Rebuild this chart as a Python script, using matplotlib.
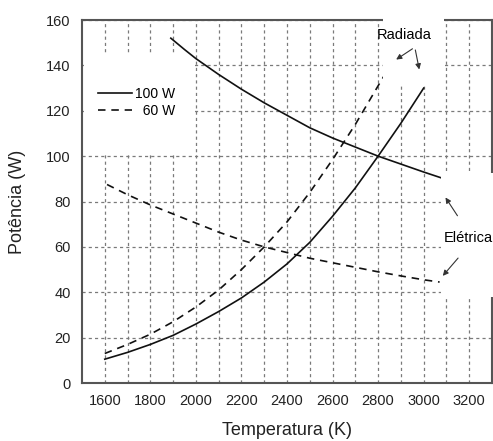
import matplotlib
matplotlib.use("Agg")
import matplotlib.pyplot as plt
from matplotlib.patches import Rectangle

plt.rcParams['font.family'] = ['Liberation Sans', 'DejaVu Sans']

# values
temp_rad_100 = [1600, 1700, 1800, 1900, 2000, 2100, 2200, 2300, 2400, 2500, 2600, 2700, 2800, 2900, 3000]
rad_100 = [10.5, 13.5, 17, 21, 26, 31.5, 37.5, 44.5, 52.5, 62, 73.5, 86, 100, 114.5, 130]

temp_ele_100 = [1890, 1950, 2000, 2100, 2200, 2300, 2400, 2500, 2600, 2700, 2800, 2900, 3000, 3075]
ele_100 = [152, 147, 143, 136, 129.5, 123.5, 118, 112.5, 108, 104, 100, 96.5, 93, 90.5]

temp_rad_60 = [1600, 1700, 1800, 1900, 2000, 2100, 2200, 2300, 2400, 2500, 2600, 2700, 2800, 2830]
rad_60 = [13, 17, 21.5, 27, 33.5, 41, 50, 60, 71, 84, 98.5, 114, 131, 136]

temp_ele_60 = [1610, 1700, 1800, 1900, 2000, 2100, 2200, 2300, 2400, 2500, 2600, 2700, 2800, 2900, 3000, 3070]
ele_60 = [87.5, 83, 78.5, 74.5, 70.5, 66.5, 63, 60, 57.5, 55, 53, 51, 49, 47.2, 45.5, 44.5]

x_ticks = [1600, 1800, 2000, 2200, 2400, 2600, 2800, 3000, 3200]
y_ticks = [0, 20, 40, 60, 80, 100, 120, 140, 160]

fig = plt.figure(figsize=(4.93, 4.41), dpi=100)
ax = fig.add_axes([0.1663, 0.1315, 0.8317, 0.8231])

line_col = '#111111'
ax.plot(temp_rad_100, rad_100, color=line_col, lw=1.2, label='100 W')
ax.plot(temp_ele_100, ele_100, color=line_col, lw=1.2)
ax.plot(temp_rad_60, rad_60, color=line_col, lw=1.2, dashes=(4.5, 3.5), label='\u200760 W')
ax.plot(temp_ele_60, ele_60, color=line_col, lw=1.2, dashes=(4.5, 3.5))

ax.set_xlim(1500, 3300)
ax.set_ylim(0, 160)
ax.set_xticks(x_ticks)
ax.set_xticks(range(1700, 3300, 200), minor=True)
ax.set_yticks(y_ticks)
ax.tick_params(which='both', length=0, labelsize=10.5, colors='#222222', pad=8)
ax.set_axisbelow(True)
ax.grid(True, which='both', color='#7a7a7a', lw=0.9, dashes=(2.5, 2.5))
for s in ax.spines.values():
    s.set_color('#555555')
    s.set_linewidth(1.5)

ax.set_xlabel('Temperatura (K)', fontsize=13, color='#222222')
ax.set_ylabel('Potência (W)', fontsize=13, color='#222222')
ax.xaxis.set_label_coords(0.5, -0.108)
ax.yaxis.set_label_coords(-0.137, 0.5)

# white boxes behind legend and annotations
ax.add_patch(Rectangle((0.004, 0.634), 0.267, 0.27, transform=ax.transAxes,
                       facecolor='white', edgecolor='none', zorder=1))
ax.add_patch(Rectangle((0.735, 0.818), 0.148, 0.2, transform=ax.transAxes,
                       facecolor='white', edgecolor='none', zorder=3, clip_on=False))
ax.add_patch(Rectangle((0.876, 0.237), 0.14, 0.342, transform=ax.transAxes,
                       facecolor='white', edgecolor='none', zorder=3, clip_on=False))

ax.legend(loc='upper left', bbox_to_anchor=(0.039, 0.815), frameon=False,
          fontsize=10, handlelength=2.45, handletextpad=0.2, labelspacing=0.2,
          borderpad=0, borderaxespad=0)

arrow = dict(arrowstyle='-|>', color='#333333', lw=0.8, mutation_scale=8)
ax.text(2915, 153.5, 'Radiada', fontsize=10.5, ha='center', va='center', zorder=4)
ax.annotate('', xy=(2869, 141.9), xytext=(2961, 148), arrowprops=arrow, zorder=4)
ax.annotate('', xy=(2983, 137), xytext=(2961, 148), arrowprops=arrow, zorder=4)
ax.text(3089, 64, 'Elétrica', fontsize=10.5, ha='left', va='center', zorder=4,
        clip_on=False)
ax.annotate('', xy=(3089, 82.8), xytext=(3155, 72.7), arrowprops=arrow, zorder=4)
ax.annotate('', xy=(3076, 46.3), xytext=(3159, 56), arrowprops=arrow, zorder=4)

fig.savefig('out.png', dpi=100)
